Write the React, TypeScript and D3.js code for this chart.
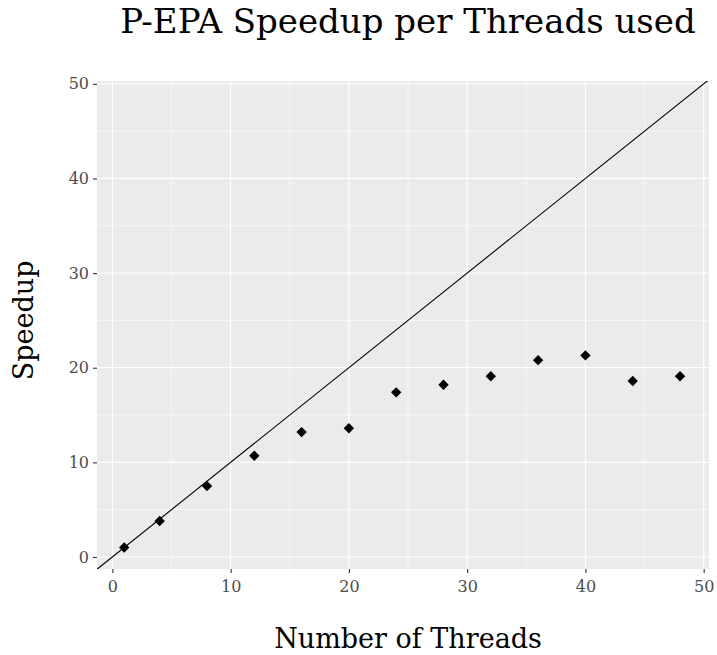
import { useEffect, useRef } from "react";
import * as d3 from "d3";

const threads = [1, 4, 8, 12, 16, 20, 24, 28, 32, 36, 40, 44, 48];
const speedup = [1.0, 3.8, 7.5, 10.7, 13.2, 13.6, 17.4, 18.2, 19.1, 20.8, 21.3, 18.6, 19.1];
const majorTicks = [0, 10, 20, 30, 40, 50];
const minorTicks = [5, 15, 25, 35, 45];

const FONT = "'DejaVu Serif', serif";

export default function App() {
  const svgRef = useRef<SVGSVGElement | null>(null);

  useEffect(() => {
    const svg = d3.select(svgRef.current);
    svg.selectAll("*").remove();

    const width = 717;
    const height = 655;
    const margin = { top: 81, right: 8, bottom: 86, left: 97 };

    const x = d3.scaleLinear().domain([-1.3, 50.45]).range([margin.left, width - margin.right]);
    const y = d3.scaleLinear().domain([-1.27, 50.3]).range([height - margin.bottom, margin.top]);

    // panel
    svg
      .append("rect")
      .attr("x", margin.left)
      .attr("y", margin.top)
      .attr("width", width - margin.left - margin.right)
      .attr("height", height - margin.top - margin.bottom)
      .attr("fill", "#ebebeb");

    const grid = svg.append("g").attr("stroke", "#ffffff");
    grid
      .selectAll("line.vminor")
      .data(minorTicks)
      .join("line")
      .attr("x1", (d) => x(d))
      .attr("x2", (d) => x(d))
      .attr("y1", margin.top)
      .attr("y2", height - margin.bottom)
      .attr("stroke-width", 0.6);
    grid
      .selectAll("line.hminor")
      .data(minorTicks)
      .join("line")
      .attr("x1", margin.left)
      .attr("x2", width - margin.right)
      .attr("y1", (d) => y(d))
      .attr("y2", (d) => y(d))
      .attr("stroke-width", 0.6);
    grid
      .selectAll("line.vmajor")
      .data(majorTicks)
      .join("line")
      .attr("x1", (d) => x(d))
      .attr("x2", (d) => x(d))
      .attr("y1", margin.top)
      .attr("y2", height - margin.bottom)
      .attr("stroke-width", 1.2);
    grid
      .selectAll("line.hmajor")
      .data(majorTicks)
      .join("line")
      .attr("x1", margin.left)
      .attr("x2", width - margin.right)
      .attr("y1", (d) => y(d))
      .attr("y2", (d) => y(d))
      .attr("stroke-width", 1.2);

    // y = x reference line, clipped to panel
    svg
      .append("clipPath")
      .attr("id", "panel-clip")
      .append("rect")
      .attr("x", margin.left)
      .attr("y", margin.top)
      .attr("width", width - margin.left - margin.right)
      .attr("height", height - margin.top - margin.bottom);

    svg
      .append("line")
      .attr("clip-path", "url(#panel-clip)")
      .attr("x1", x(-2))
      .attr("y1", y(-2))
      .attr("x2", x(52))
      .attr("y2", y(52))
      .attr("stroke", "#000")
      .attr("stroke-width", 1.1);

    const diamond = d3.symbol().type(d3.symbolSquare).size(54);
    svg
      .append("g")
      .selectAll("path")
      .data(threads.map((t, i) => [t, speedup[i]]))
      .join("path")
      .attr("d", diamond)
      .attr("transform", (d) => `translate(${x(d[0])},${y(d[1])}) rotate(45)`)
      .attr("fill", "#000");

    // axes
    const xAxis = svg
      .append("g")
      .attr("transform", `translate(0,${height - margin.bottom})`)
      .call(d3.axisBottom(x).tickValues(majorTicks).tickSize(4).tickPadding(8).tickSizeOuter(0));
    xAxis.select(".domain").remove();
    xAxis.selectAll("line").attr("stroke", "#333333").attr("stroke-width", 1.1);
    xAxis
      .selectAll("text")
      .attr("fill", "#4d4d4d")
      .style("font-family", FONT)
      .style("font-size", "16px");

    const yAxis = svg
      .append("g")
      .attr("transform", `translate(${margin.left},0)`)
      .call(d3.axisLeft(y).tickValues(majorTicks).tickSize(4).tickPadding(4).tickSizeOuter(0));
    yAxis.select(".domain").remove();
    yAxis.selectAll("line").attr("stroke", "#333333").attr("stroke-width", 1.1);
    yAxis
      .selectAll("text")
      .attr("fill", "#4d4d4d")
      .style("font-family", FONT)
      .style("font-size", "16px");

    // titles
    svg
      .append("text")
      .attr("x", x(25))
      .attr("y", 33)
      .attr("text-anchor", "middle")
      .style("font-family", FONT)
      .style("font-size", "34px")
      .attr("fill", "#000")
      .text("P-EPA Speedup per Threads used");

    svg
      .append("text")
      .attr("x", x(25))
      .attr("y", 648)
      .attr("text-anchor", "middle")
      .style("font-family", FONT)
      .style("font-size", "27px")
      .attr("fill", "#000")
      .text("Number of Threads");

    svg
      .append("text")
      .attr("transform", `translate(33,${y(25)}) rotate(-90)`)
      .attr("text-anchor", "middle")
      .style("font-family", FONT)
      .style("font-size", "27px")
      .attr("fill", "#000")
      .text("Speedup");
  }, []);

  return (
    <svg
      ref={svgRef}
      width={717}
      height={655}
      style={{ position: "absolute", left: 0, top: 0, background: "#fff" }}
    />
  );
}
